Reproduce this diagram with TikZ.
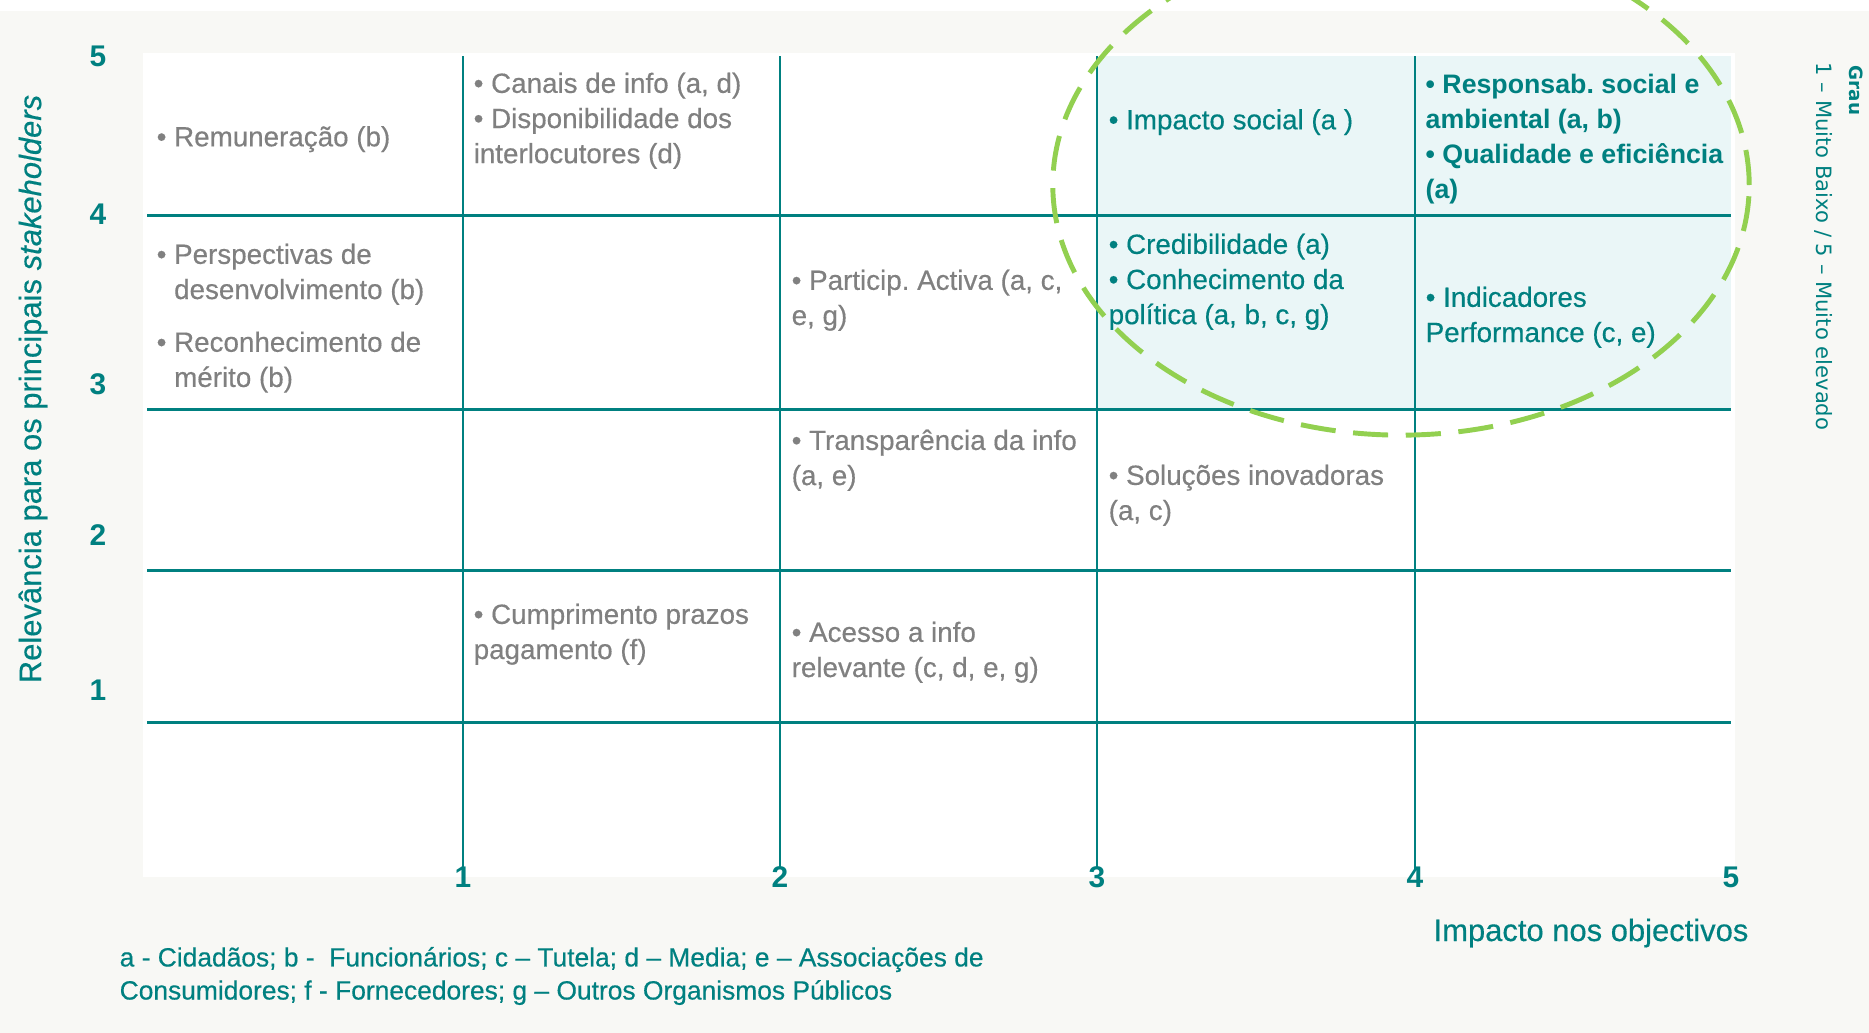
\documentclass[tikz,border=0pt]{standalone}
\usepackage{fontspec}
\setmainfont{Liberation Sans}
\newfontfamily\medfont{Liberation Sans}[FakeBold=0.4]
\newfontfamily\verafont{DejaVu Sans}
\definecolor{matteal}{RGB}{0,128,128}
\definecolor{matgray}{RGB}{128,128,128}
\definecolor{matcyan}{RGB}{234,246,247}
\definecolor{matgreen}{RGB}{146,208,80}
\definecolor{matpaper}{RGB}{248,248,245}
\newcommand\cellfont{\medfont\fontsize{7.9}{10}\selectfont}
\newcommand\ind{\hphantom{•\ }}
\frenchspacing

\begin{document}
\begin{tikzpicture}[x=0.01cm, y=-0.01cm,
    cell/.style={anchor=north west, inner sep=0pt, align=left, font=\cellfont,
                 text=matgray, execute at begin node=\strut},
    hot/.style={cell, text=matteal},
    hotbold/.style={hot, font=\fontsize{7.6}{10}\selectfont\bfseries},
    num/.style={inner sep=0pt, text=matteal, font=\fontsize{8.5}{10}\selectfont\bfseries},
    hline/.style={draw=matteal, line width=0.85pt},
    vline/.style={draw=matteal, line width=0.6pt},
    ring/.style={draw=matgreen, line width=1.4pt, dash pattern=on 10pt off 5pt}]
    \useasboundingbox (0,0) rectangle (1869,1033);
    \clip (0,0) rectangle (1869,1033);

    % background and plot area
    \fill[matpaper] (0,0) rectangle (1869,1033);
    \fill[white] (0,0) rectangle (1869,11);
    \fill[white] (143,53) rectangle (1735,877);
    \fill[matcyan] (1097,56) rectangle (1731,409);

    % grid
    \foreach \px in {463,780,1097,1415}
        \draw[vline] (\px,56) -- (\px,869);
    \foreach \py in {215,409,570,722}
        \draw[hline] (147,\py) -- (1731,\py);

    % axis numbers
    \foreach \v/\py in {5/56,4/214,3/384,2/535,1/690}
        \node[num] (y\v) at (98,\py) {\v};
    \foreach \v/\px in {1/463,2/780,3/1097,4/1415,5/1731}
        \node[num] (x\v) at (\px,877) {\v};

    % axis titles
    \node (ytitle) at (33,389) [rotate=90, text=matteal, font=\medfont\fontsize{8.8}{10}\selectfont]
        {Relevância para os principais \textit{stakeholders}};
    \node (xtitle) at (1591,933) [text=matteal, font=\medfont\fontsize{8.8}{10}\selectfont]
        {Impacto nos objectivos};
    \node (grau) at (1856,65) [anchor=west, rotate=-90, inner sep=0pt, text=matteal,
        font=\verafont\fontsize{5.2}{6}\selectfont\bfseries] {Grau};
    \node (scale) at (1824,62) [anchor=west, rotate=-90, inner sep=0pt, text=matteal,
        font=\verafont\fontsize{6}{7}\selectfont] {1 – Muito Baixo / 5 – Muito elevado};

    % highlighted zone
    \draw[ring] (1401,185) ellipse [x radius=3.48cm, y radius=2.5cm];

    % row 5
    \node[cell] (remun) at (156,121) {• Remuneração (b)};
    \node[cell] (canais) at (473,72) {• Canais de info (a, d)\\• Disponibilidade dos\\interlocutores (d)};
    \node[hot] (impacto) at (1108,104) {• Impacto social (a )};
    \node[hotbold] (respons) at (1425,73)
        {• Responsab. social e\\ambiental (a, b)\\• Qualidade e eficiência\\(a)};
    % row 4
    \node[cell] (perspect) at (156,243)
        {• Perspectivas de\\\ind desenvolvimento (b)\\[5pt]• Reconhecimento de\\\ind mérito (b)};
    \node[cell] (particip) at (791,269) {• Particip. Activa (a, c,\\e, g)};
    \node[hot] (credib) at (1108,233) {• Credibilidade (a)\\• Conhecimento da\\política (a, b, c, g)};
    \node[hot] (indicad) at (1425,286) {• Indicadores\\Performance (c, e)};
    % row 3
    \node[cell] (transp) at (791,429) {• Transparência da info\\(a, e)};
    \node[cell] (solucoes) at (1108,464) {• Soluções inovadoras\\(a, c)};
    % row 2
    \node[cell] (prazos) at (473,603) {• Cumprimento prazos\\pagamento (f)};
    \node[cell] (acesso) at (791,621) {• Acesso a info\\relevante (c, d, e, g)};

    % legend
    \node (legend) at (119,976) [anchor=west, inner sep=0pt, align=left, text=matteal,
        font=\medfont\fontsize{7.5}{9.4}\selectfont]
        {a - Cidadãos; b - \ Funcionários; c – Tutela; d – Media; e – Associações de\\
         Consumidores; f - Fornecedores; g – Outros Organismos Públicos};
\end{tikzpicture}
\end{document}
